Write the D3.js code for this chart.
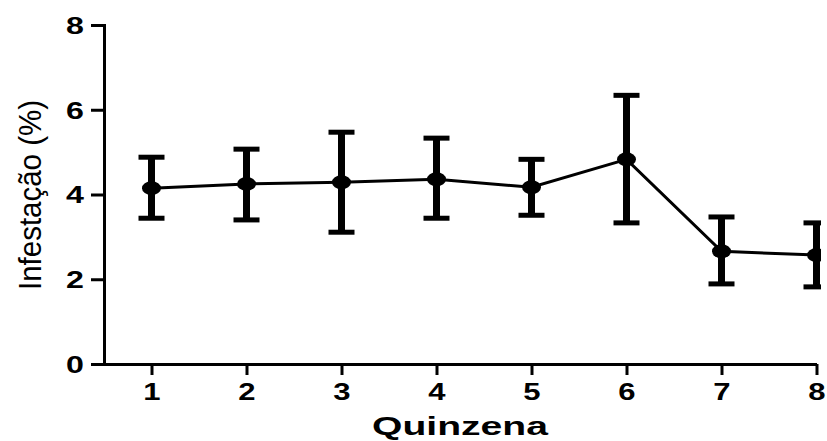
<!DOCTYPE html>
<html>
<head>
<meta charset="utf-8">
<script src="https://cdn.jsdelivr.net/npm/d3@7"></script>
<style>
  body { margin: 0; background: #fff; }
  svg { display: block; }
  .tick text { font-family: "Liberation Sans", Arial, sans-serif; font-weight: bold; font-size: 23px; fill: #000; }
</style>
</head>
<body>
<svg id="chart" width="827" height="441"></svg>
<script>
// valores
const quinzenas = [1, 2, 3, 4, 5, 6, 7, 8]
const media = [4.15, 4.25, 4.29, 4.36, 4.17, 4.83, 2.66, 2.57]
const erroSup = [4.88, 5.07, 5.47, 5.33, 4.83, 6.34, 3.47, 3.33]
const erroInf = [3.44, 3.40, 3.11, 3.44, 3.51, 3.33, 1.89, 1.82]
const yTicks = [0, 2, 4, 6, 8]

const dados = quinzenas.map((q, i) => ({ q, m: media[i], hi: erroSup[i], lo: erroInf[i] }))

const svg = d3.select('#chart')

const x = d3.scaleLinear().domain([0.5, 8]).range([104, 816.5])
const y = d3.scaleLinear().domain([0, 8]).range([364, 25])

svg.append('defs').append('clipPath').attr('id', 'corte')
  .append('rect').attr('x', 0).attr('y', 0).attr('width', 821).attr('height', 441)

// eixo y
const eixoY = svg.append('g')
  .attr('transform', 'translate(104,0)')
  .call(d3.axisLeft(y).tickValues(yTicks).tickSize(13).tickFormat(d3.format('d')))
eixoY.selectAll('path, line').attr('stroke', '#000').attr('stroke-width', 3)
eixoY.selectAll('text')
  .attr('x', -14.3).attr('dy', '0.36em')
  .attr('transform', 'scale(1.4,1)')

// eixo x
const eixoX = svg.append('g')
  .attr('transform', 'translate(0,364)')
  .call(d3.axisBottom(x).tickValues(quinzenas).tickSize(11).tickSizeOuter(0).tickFormat(d3.format('d')))
eixoX.selectAll('path, line').attr('stroke', '#000').attr('stroke-width', 3)
eixoX.selectAll('text')
  .attr('y', 36).attr('dy', 0)
  .attr('transform', 'scale(1.35,1)')

// títulos
svg.append('text')
  .attr('transform', 'translate(460,435)')
  .attr('text-anchor', 'middle')
  .attr('textLength', 176).attr('lengthAdjust', 'spacingAndGlyphs')
  .style('font-family', '"Liberation Sans", Arial, sans-serif')
  .style('font-weight', 'bold').style('font-size', '26px')
  .text('Quinzena')

svg.append('text')
  .attr('transform', 'translate(41,195) scale(1.35,1) rotate(-90)')
  .attr('text-anchor', 'middle')
  .attr('textLength', 190).attr('lengthAdjust', 'spacingAndGlyphs')
  .style('font-family', '"Liberation Sans", Arial, sans-serif')
  .style('font-size', '23px')
  .text('Infestação (%)')

const g = svg.append('g').attr('clip-path', 'url(#corte)')

// linha das médias
g.append('path')
  .datum(dados)
  .attr('fill', 'none')
  .attr('stroke', '#000')
  .attr('stroke-width', 3)
  .attr('d', d3.line().x(d => x(d.q)).y(d => y(d.m)))

// barras de erro
g.selectAll('.barra')
  .data(dados)
  .join('line')
  .attr('class', 'barra')
  .attr('x1', d => x(d.q)).attr('x2', d => x(d.q))
  .attr('y1', d => y(d.hi)).attr('y2', d => y(d.lo))
  .attr('stroke', '#000').attr('stroke-width', 7)

g.selectAll('.capa')
  .data(dados.flatMap(d => [{ q: d.q, v: d.hi }, { q: d.q, v: d.lo }]))
  .join('line')
  .attr('class', 'capa')
  .attr('x1', d => x(d.q) - 13).attr('x2', d => x(d.q) + 13)
  .attr('y1', d => y(d.v)).attr('y2', d => y(d.v))
  .attr('stroke', '#000').attr('stroke-width', 5)

// pontos
g.selectAll('.ponto')
  .data(dados)
  .join('ellipse')
  .attr('class', 'ponto')
  .attr('cx', d => x(d.q)).attr('cy', d => y(d.m))
  .attr('rx', 9.5).attr('ry', 7)
  .attr('fill', '#000')
</script>
</body>
</html>
